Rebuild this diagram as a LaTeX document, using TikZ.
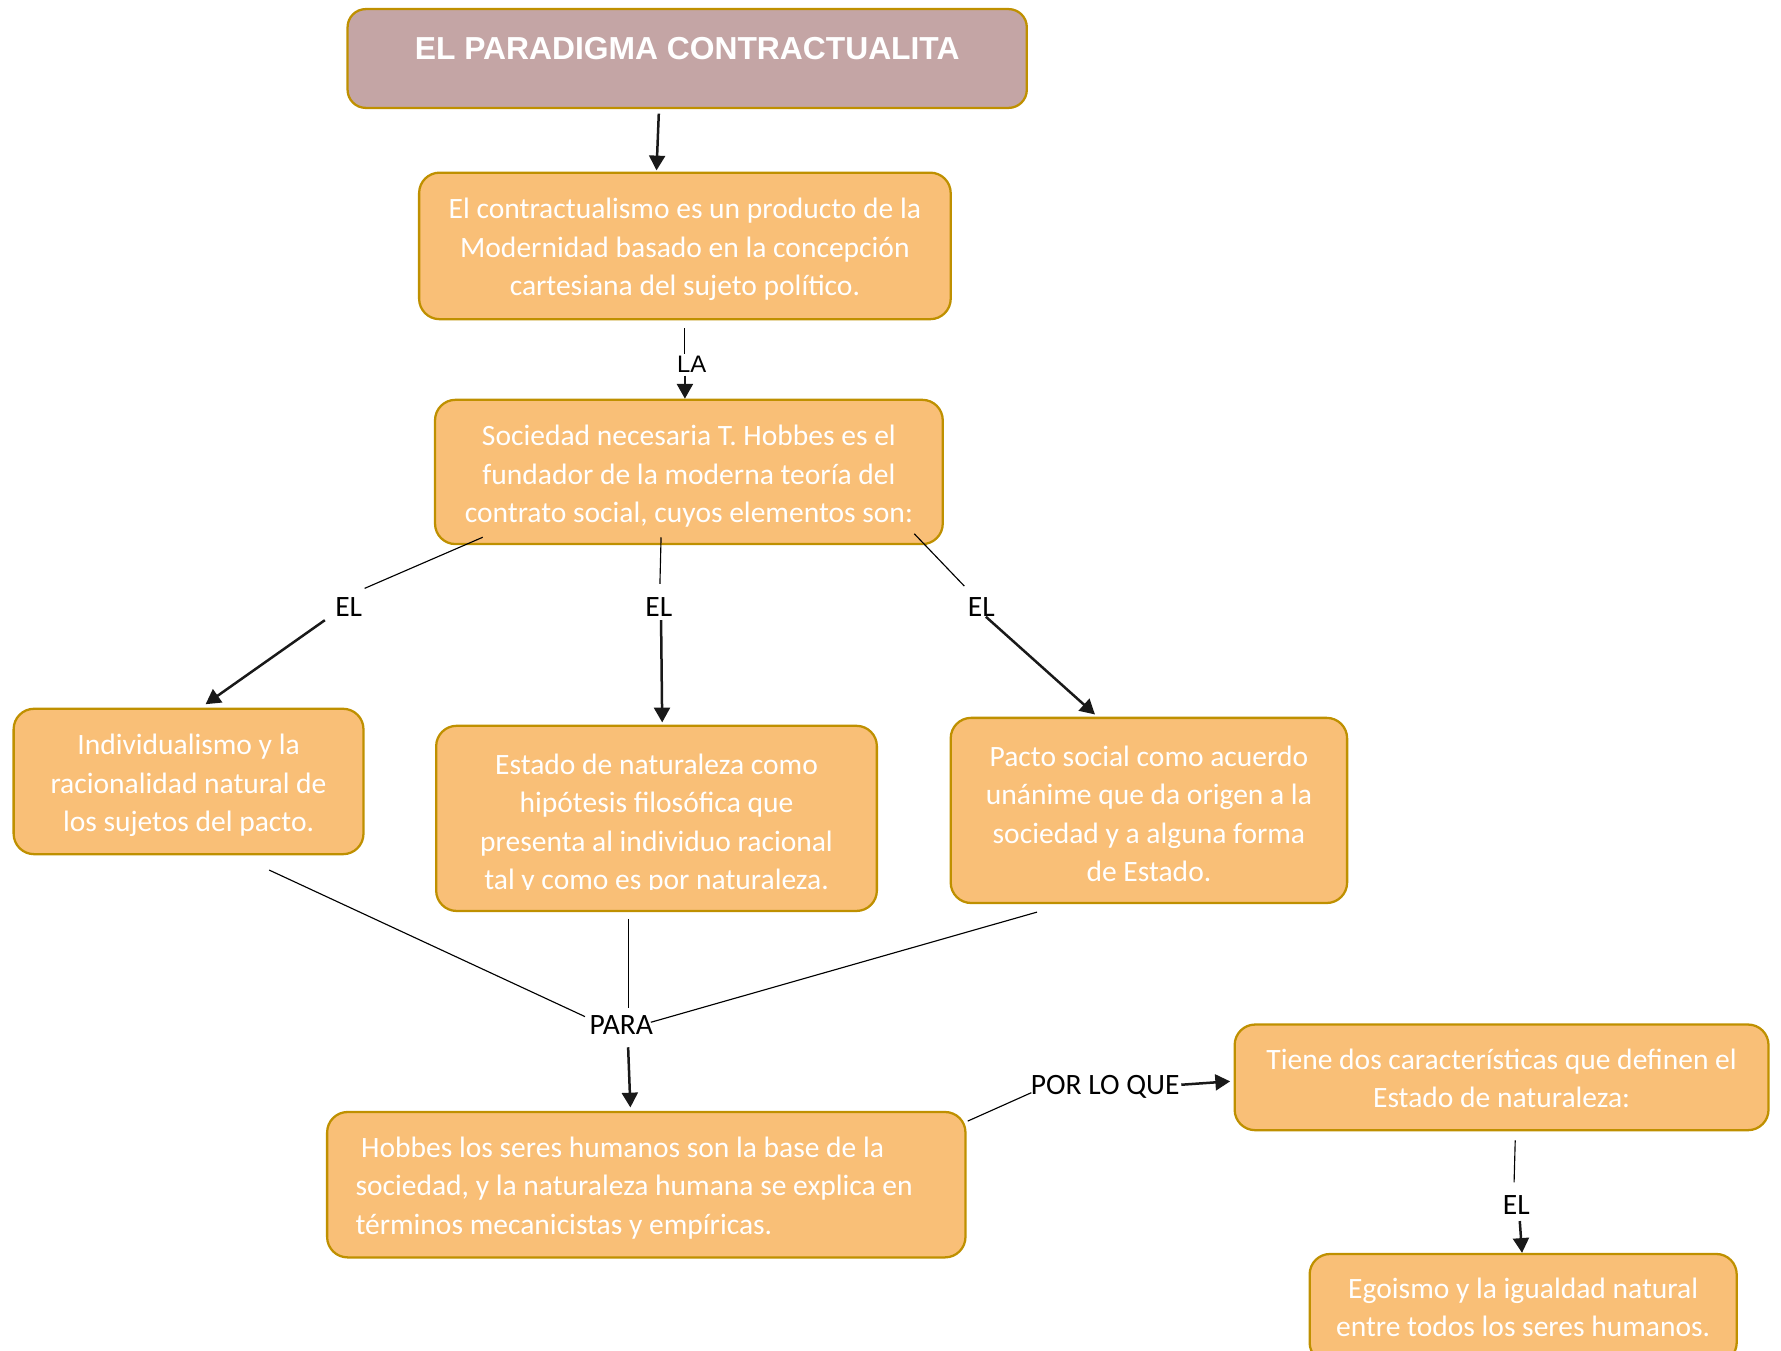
\documentclass[tikz,border=0pt]{standalone}
\usepackage{fontspec}
\setmainfont{Carlito}
\newfontfamily\arialfont{Liberation Sans}
\usetikzlibrary{arrows.meta,calc}
\definecolor{boxfill}{RGB}{249,191,119}
\definecolor{boxline}{RGB}{191,144,0}
\definecolor{titlefill}{RGB}{196,165,165}
\begin{document}
\begin{tikzpicture}[x=0.5pt,y=-0.5pt,
  box/.style={draw=boxline, line width=1pt, fill=boxfill, rounded corners=9pt, inner sep=0pt},
  boxtext/.style={inner sep=0pt, text=white, align=center, font=\fontsize{13}{16.9}\selectfont},
  lbl/.style={inner sep=1pt, text=black, text depth=0pt, font=\fontsize{13}{15}\selectfont},
  thinln/.style={draw=black, line width=0.5pt},
  arr/.style={draw=black!90, line width=1.1pt, -{Triangle[length=6.5pt,width=7pt]}},
]
\clip (0,0) rectangle (1568,1189);

% boxes
\node[box, fill=titlefill, rounded corners=8pt, minimum width=299pt, minimum height=43.5pt,
  label={[text=white, font=\arialfont\bfseries\fontsize{14}{16}\selectfont, yshift=4.5pt]center:EL PARADIGMA CONTRACTUALITA}]
  (title) at (605,51.5) {};

\node[box, minimum width=234pt, minimum height=64.5pt,
  label={[boxtext, yshift=-1.5pt]center:{El contractualismo es un producto de la\\Modernidad basado en la concepción\\cartesiana del sujeto político.}}]
  (b2) at (603,216.5) {};

\node[box, minimum width=223.5pt, minimum height=63.5pt,
  label={[boxtext, yshift=-2pt]center:{Sociedad necesaria T. Hobbes es el\\fundador de la moderna teoría del\\contrato social, cuyos elementos son:}}]
  (b3) at (606.5,415.5) {};

\node[box, minimum width=154pt, minimum height=64pt,
  label={[boxtext, yshift=-1.75pt]center:{Individualismo y la\\racionalidad natural de\\los sujetos del pacto.}}]
  (b4) at (166,688) {};

\node[box, minimum width=194pt, minimum height=81.5pt] (b5) at (578,720.5) {};
\begin{scope}
  \clip (b5.north west) rectangle ($(b5.south east)+(0,-20)$);
  \node[boxtext] (b5t) at ($(b5)+(0,5)$)
    {Estado de naturaleza como\\hipótesis filosófica que\\presenta al individuo racional\\tal y como es por naturaleza.};
\end{scope}

\node[box, minimum width=174.5pt, minimum height=81.5pt,
  label={[boxtext, yshift=-1.5pt]center:{Pacto social como acuerdo\\unánime que da origen a la\\sociedad y a alguna forma\\de Estado.}}]
  (b6) at (1011.5,713.5) {};

\node[box, minimum width=281pt, minimum height=64pt,
  label={[boxtext, align=flush left, text width=256pt, yshift=-1.5pt]center:{\hspace*{2.5pt}Hobbes los seres humanos son la base de la\\sociedad, y la naturaleza humana se explica en\\términos mecanicistas y empíricas.}}]
  (b7) at (569,1043) {};

\node[box, minimum width=235pt, minimum height=46.5pt,
  label={[boxtext, yshift=-0.5pt]center:{Tiene dos características que definen el\\Estado de naturaleza:}}]
  (b8) at (1322,948.5) {};

\node[box, minimum width=188pt, minimum height=48pt,
  label={[boxtext, yshift=0.5pt]center:{Egoismo y la igualdad natural\\entre todos los seres humanos.}}]
  (b9) at (1341,1152) {};

% labels
\node[lbl, font=\arialfont\fontsize{10.5}{12}\selectfont] (la) at (609,321) {LA};
\node[lbl] (el1) at (307,534) {EL};
\node[lbl] (el2) at (580,534) {EL};
\node[lbl] (el3) at (864,534) {EL};
\node[lbl] (para) at (547,902) {PARA};
\node[lbl] (plq) at (973,955) {POR LO QUE};
\node[lbl] (el4) at (1335,1061) {EL};

% connectors
\draw[arr] ($(title.south)+(-25,4)$) -- ($(b2.north)+(-25,-1)$);

\draw[thinln] ($(b2.south)+(0,7)$) -- (la.north -| b2.south);
\draw[arr] (la.south -| b2.south) -- (b3.north -| b2.south);

\draw[thinln] ($(b3.south west)+(43,-7)$) -- ($(el1)+(14,-16)$);
\draw[arr] ($(el1)+(-21,12)$) -- ($(b4.north)+(15,-3)$);

\draw[thinln] ($(b3.south)+(-24.5,-7)$) -- ($(el2)+(1,-20)$);
\draw[arr] ($(el2)+(2,12)$) -- ($(b5.north)+(5,-2)$);

\draw[thinln] ($(b3.south east)+(-26,-10)$) -- ($(el3)+(-15,-18)$);
\draw[arr] ($(el3)+(4,9)$) -- ($(b6.north)+(-47.5,-2)$);

\draw[thinln] ($(b4.south)+(71,13)$) -- ($(para)+(-32,-7)$);
\draw[thinln] ($(b5.south)+(-25,6)$) -- ($(para)+(6,-15)$);
\draw[thinln] ($(b6.south)+(-98.5,7)$) -- ($(para)+(26,-2)$);
\draw[arr] ($(para)+(6,20)$) -- ($(b7.north)+(-14,-3)$);

\draw[thinln] ($(b7.east)+(1,-56)$) -- ($(plq)+(-65,7)$);
\draw[arr] ($(plq)+(67,0)$) -- ($(b8.west)+(-3,3.5)$);

\draw[thinln] ($(b8.south)+(12,8)$) -- ($(el4)+(-2,-20)$);
\draw[arr] ($(el4)+(3,14)$) -- ($(b9.north)+(-1,0)$);
\end{tikzpicture}
\end{document}
